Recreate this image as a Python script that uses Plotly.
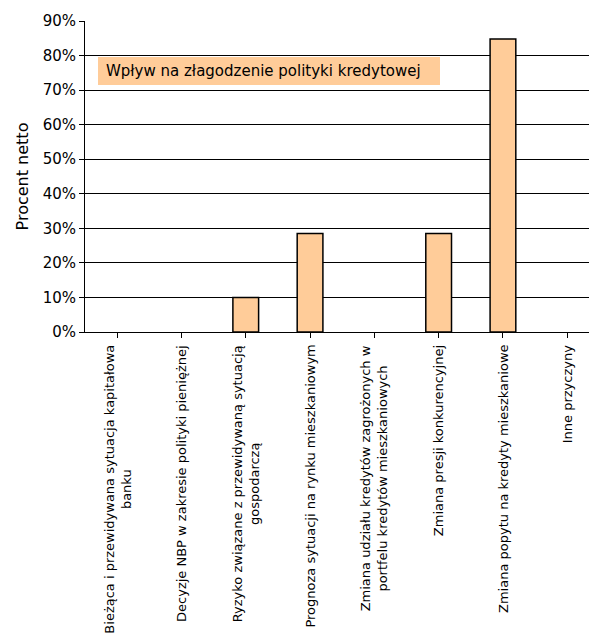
import plotly.graph_objects as go

categories = [
    "Bieżąca i przewidywana sytuacja kapitałowa<br>banku",
    "Decyzje NBP w zakresie polityki pieniężnej",
    "Ryzyko związane z przewidywaną sytuacją<br>gospodarczą",
    "Prognoza sytuacji na rynku mieszkaniowym",
    "Zmiana udziału kredytów zagrożonych w<br>portfelu kredytów mieszkaniowych",
    "Zmiana presji konkurencyjnej",
    "Zmiana popytu na kredyty mieszkaniowe",
    "Inne przyczyny",
]
values = [0.0, 0.0, 0.10, 0.285, 0.0, 0.285, 0.848, 0.0]
y_ticks = [0, 0.1, 0.2, 0.3, 0.4, 0.5, 0.6, 0.7, 0.8, 0.9]
box_label = "Wpływ na złagodzenie polityki kredytowej"
y_title = "Procent netto"

FONT = "Tahoma, DejaVu Sans, sans-serif"
W, H = 589, 633
ML, MT, MB = 85, 21, 301
plot_h = H - MT - MB
plot_w = W - ML

x_idx = list(range(len(categories)))
# empty categories get no outline so they stay invisible
outline = [1.5 if v > 0 else 0 for v in values]

fig = go.Figure()
fig.add_trace(go.Bar(
    x=x_idx, y=values, width=0.4,
    marker=dict(color="#FFCC99", line=dict(color="#000000", width=outline)),
))

# rotated, centred multi-line category labels
for i, c in zip(x_idx, categories):
    fig.add_annotation(
        x=i, xref="x", y=-11 / plot_h, yref="paper",
        text=c, textangle=-90, showarrow=False,
        xanchor="center", yanchor="top", align="center",
        font=dict(family=FONT, size=13, color="#000000"),
    )

# legend-like label box
fig.add_shape(
    type="rect", xref="paper", yref="paper",
    x0=(98 - ML) / plot_w, x1=(440 - ML) / plot_w,
    y0=(H - MB - 85) / plot_h, y1=(H - MB - 57) / plot_h,
    fillcolor="#FFCC99", line=dict(width=0), layer="above",
)
fig.add_annotation(
    x=(104 - ML) / plot_w, xref="paper", y=(H - MB - 71) / plot_h, yref="paper",
    text=box_label, showarrow=False, xanchor="left", yanchor="middle",
    font=dict(family=FONT, size=15, color="#000000"),
)

fig.update_layout(
    width=W, height=H,
    margin=dict(l=ML, r=0, t=MT, b=MB),
    paper_bgcolor="#FFFFFF", plot_bgcolor="#FFFFFF",
    showlegend=False,
    font=dict(family=FONT, size=15, color="#000000"),
    xaxis=dict(
        range=[-0.5, -0.5 + plot_w / 64.3],
        tickvals=x_idx, ticktext=[""] * len(x_idx),
        tickson="boundaries", ticks="outside", ticklen=5, tickcolor="#000000",
        showline=True, linecolor="#000000", linewidth=1,
        showgrid=False, zeroline=False, fixedrange=True,
    ),
    yaxis=dict(
        range=[0, 0.9], tickvals=y_ticks, tickformat=".0%",
        ticks="outside", ticklen=5, tickcolor="#000000",
        showline=True, linecolor="#000000", linewidth=1,
        showgrid=True, gridcolor="#000000", gridwidth=1,
        zeroline=False,
        title=dict(text=y_title, font=dict(family=FONT, size=16), standoff=10),
        tickfont=dict(family=FONT, size=15),
    ),
)

fig.write_html("out.html")
